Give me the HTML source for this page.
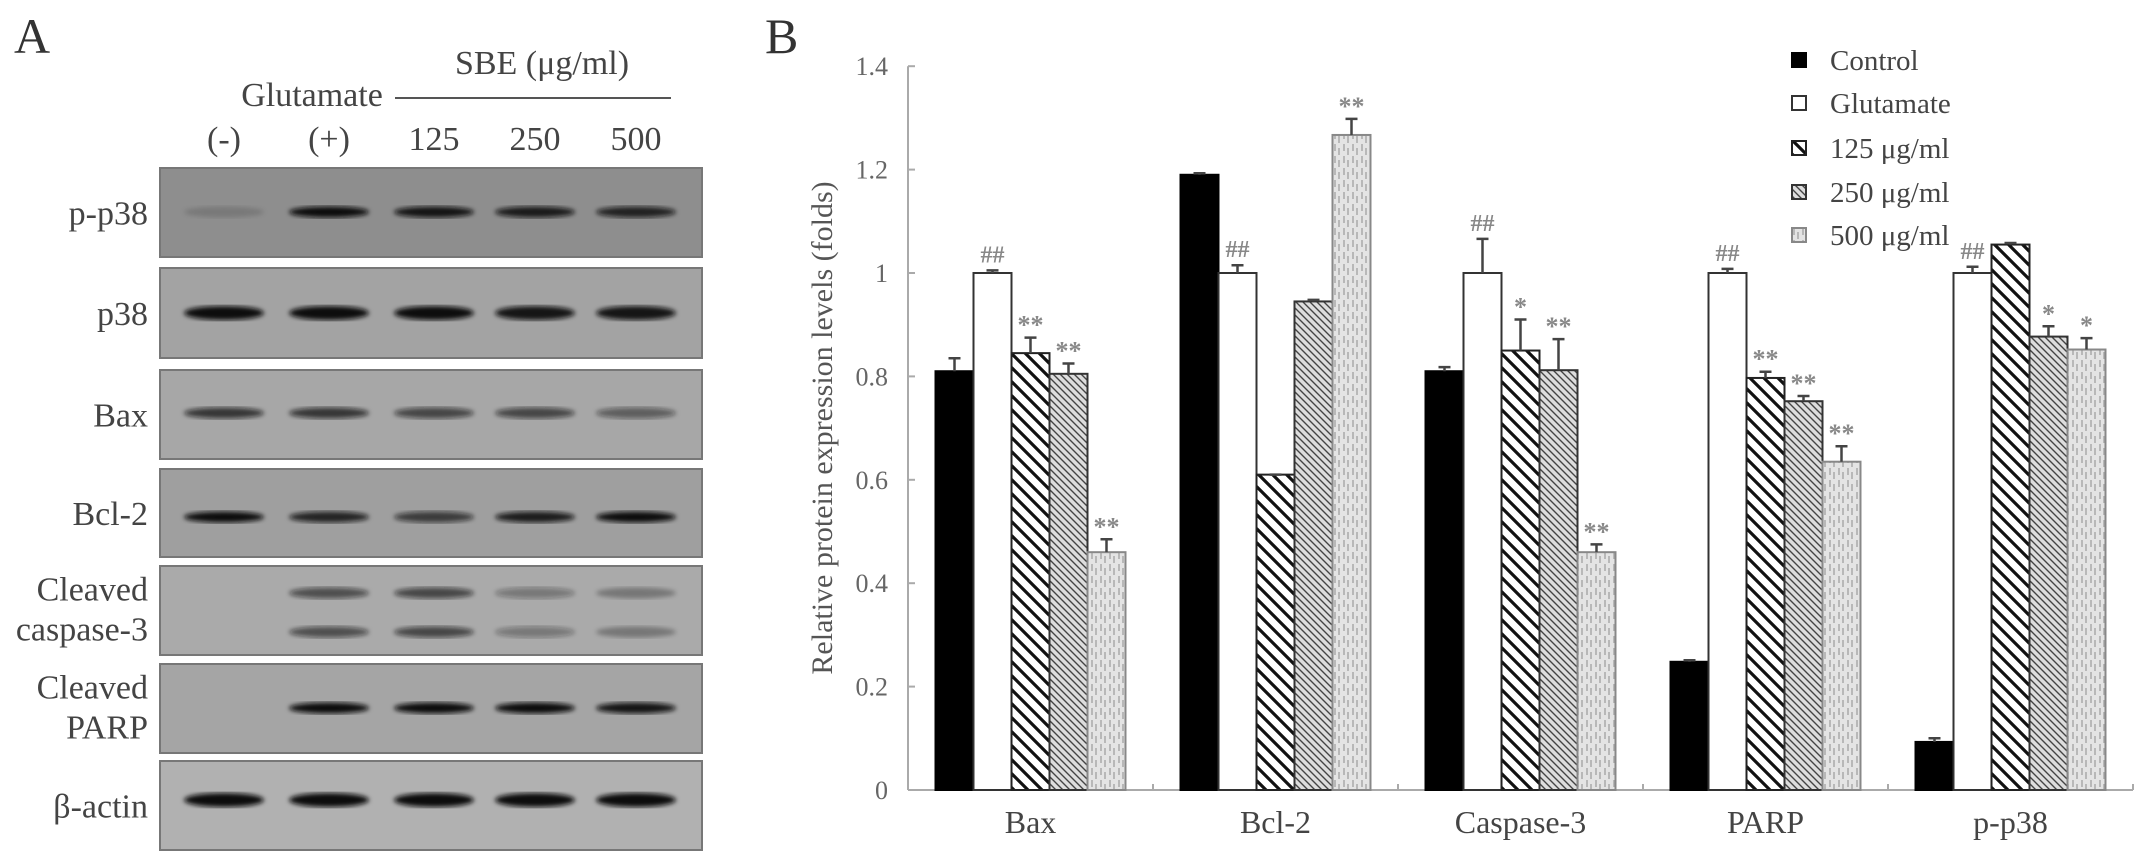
<!DOCTYPE html>
<html><head><meta charset="utf-8"><style>
html,body{margin:0;padding:0;background:#fff;}
svg{display:block;font-family:"Liberation Serif",serif;}
</style></head><body>
<svg id="fig" width="2150" height="864" viewBox="0 0 2150 864" xmlns="http://www.w3.org/2000/svg">
<defs>
<pattern id="p125" patternUnits="userSpaceOnUse" width="14" height="14">
<rect width="14" height="14" fill="#fff"/>
<path d="M-2,-2 L16,16 M-2,12 L2,16 M12,-2 L16,2" stroke="#111" stroke-width="3.2"/>
</pattern>
<pattern id="p250" patternUnits="userSpaceOnUse" width="7" height="7">
<rect width="7" height="7" fill="#ddd"/>
<path d="M-1,-1 L8,8 M-1,6 L1,8 M6,-1 L8,1" stroke="#444" stroke-width="1.4"/>
</pattern>
<pattern id="p500" patternUnits="userSpaceOnUse" width="9" height="12">
<rect width="9" height="12" fill="#e4e4e4"/>
<path d="M3,0 L3,7 M7,4 L7,11" stroke="#aaa" stroke-width="1.5"/>
</pattern>
<filter id="blur"><feGaussianBlur stdDeviation="2.4"/></filter>
</defs>

<!-- Panel A -->
<text x="14" y="53" font-size="50" fill="#333">A</text>
<text x="542" y="74" font-size="34" fill="#444" text-anchor="middle">SBE (μg/ml)</text>
<line x1="395" y1="98" x2="671" y2="98" stroke="#555" stroke-width="2"/>
<text x="312" y="106" font-size="34" fill="#444" text-anchor="middle">Glutamate</text>
<g id="lanes" font-size="34" fill="#444" text-anchor="middle"></g>
<g id="blots"></g>

<!-- Panel B -->
<text x="765" y="53" font-size="50" fill="#333">B</text>
<text transform="translate(832,428) rotate(-90)" font-size="30" fill="#555" text-anchor="middle">Relative protein expression levels (folds)</text>
<g id="chart"></g>
<g id="legend"></g>
</svg>
<script>
// ---- chart data ----
const categories = ["Bax", "Bcl-2", "Caspase-3", "PARP", "p-p38"];
const seriesNames = ["Control", "Glutamate", "125 μg/ml", "250 μg/ml", "500 μg/ml"];
const controlVals = [0.81, 1.19, 0.81, 0.248, 0.093];
const glutamateVals = [1.0, 1.0, 1.0, 1.0, 1.0];
const sbe125Vals = [0.845, 0.61, 0.85, 0.797, 1.055];
const sbe250Vals = [0.805, 0.945, 0.812, 0.752, 0.877];
const sbe500Vals = [0.46, 1.267, 0.46, 0.635, 0.852];
const controlErr = [0.025, 0.003, 0.008, 0.003, 0.007];
const glutamateErr = [0.005, 0.015, 0.066, 0.008, 0.012];
const sbe125Err = [0.03, 0.0, 0.06, 0.012, 0.003];
const sbe250Err = [0.02, 0.003, 0.06, 0.01, 0.02];
const sbe500Err = [0.025, 0.031, 0.015, 0.03, 0.022];
const controlMarks = ["", "", "", "", ""];
const glutamateMarks = ["##", "##", "##", "##", "##"];
const sbe125Marks = ["**", "", "*", "**", ""];
const sbe250Marks = ["**", "", "**", "**", "*"];
const sbe500Marks = ["**", "**", "**", "**", "*"];
const yTicks = [0, 0.2, 0.4, 0.6, 0.8, 1, 1.2, 1.4];
const yTickLabels = ["0", "0.2", "0.4", "0.6", "0.8", "1", "1.2", "1.4"];

const NS = "http://www.w3.org/2000/svg";
function mk(tag, attrs, parent){const e=document.createElementNS(NS,tag);for(const k in attrs)e.setAttribute(k,attrs[k]);parent.appendChild(e);return e;}

const X0=908, CAT_W=245, Y0=790, UNIT=517;
const BAR_W=38, BAR_OFF=(CAT_W-5*BAR_W)/2;
function yScale(v){return Y0 - v*UNIT;}
function xBand(ci){return X0 + ci*CAT_W;}
function xBar(ci,si){return xBand(ci)+BAR_OFF+si*BAR_W;}

const chart=document.getElementById('chart');
const values=[controlVals,glutamateVals,sbe125Vals,sbe250Vals,sbe500Vals];
const errs=[controlErr,glutamateErr,sbe125Err,sbe250Err,sbe500Err];
const marks=[controlMarks,glutamateMarks,sbe125Marks,sbe250Marks,sbe500Marks];
const fills=["#000","#fff","url(#p125)","url(#p250)","url(#p500)"];
const strokes=["#000","#333","#222","#333","#888"];

const yAxis=mk('line',{x1:X0,y1:yScale(1.4),x2:X0,y2:Y0,stroke:'#aaa','stroke-width':2},chart);


yTicks.forEach((t,i)=>{
  const tk=mk('line',{x1:X0,y1:yScale(t),x2:X0+7,y2:yScale(t),stroke:'#aaa','stroke-width':2},chart);
  
  
  const tl=mk('text',{x:X0-20,y:yScale(t)+9,'font-size':26,fill:'#666','text-anchor':'end'},chart);
  tl.textContent=yTickLabels[i];
  
  
});
const xAxis=mk('line',{x1:X0,y1:Y0,x2:xBand(categories.length),y2:Y0,stroke:'#aaa','stroke-width':2},chart);


for(let c=1;c<=categories.length;c++){
  const tk=mk('line',{x1:xBand(c),y1:Y0,x2:xBand(c),y2:Y0-6,stroke:'#aaa','stroke-width':2},chart);
  
  
}
categories.forEach((c,ci)=>{
  const t=mk('text',{x:xBand(ci)+CAT_W/2,y:833,'font-size':32,fill:'#444','text-anchor':'middle'},chart);
  t.textContent=c;
  
  
});
categories.forEach((c,ci)=>{
  values.forEach((vals,si)=>{
    const v=vals[ci], e=errs[si][ci];
    const x=xBar(ci,si), top=yScale(v);
    const r=mk('rect',{x:x,y:top,width:BAR_W,height:Y0-top,fill:fills[si],stroke:strokes[si],'stroke-width':2},chart);
    
    
    const cx=x+BAR_W/2, et=yScale(v+e);
    const el=mk('path',{d:`M${cx},${top} L${cx},${et} M${cx-6},${et} L${cx+6},${et}`,stroke:'#444','stroke-width':2.5,fill:'none'},chart);
    
    
    const m=marks[si][ci];
    if(m){
      const isHash=m[0]==='#';
      const mt=mk('text',{x:cx,y:et-(isHash?8:4),'font-size':isHash?24:26,fill:'#888','text-anchor':'middle','font-weight':'bold'},chart);
      mt.textContent=m;
      
      
    }
  });
});
const legend=document.getElementById('legend');
const legendY=[60,103,148,192,235];
seriesNames.forEach((n,si)=>{
  const sq=mk('rect',{x:1792,y:legendY[si]-7,width:14,height:14,fill:fills[si],stroke:strokes[si],'stroke-width':2},legend);
  
  
  const t=mk('text',{x:1830,y:legendY[si]+10,'font-size':29,fill:'#444'},legend);
  t.textContent=n;
  
  
});

// ---- blots ----
const laneNames=["(-)","(+)","125","250","500"];
const laneX=[224,329,434,535,636];
const lanes=document.getElementById('lanes');
laneNames.forEach((n,i)=>{
  const t=mk('text',{x:laneX[i],y:150},lanes);
  t.textContent=n;
  
  
});
const blotNames=[["p-p38"],["p38"],["Bax"],["Bcl-2"],["Cleaved","caspase-3"],["Cleaved","PARP"],["β-actin"]];
const blotTop=[168,268,370,469,566,664,761];
const blotBot=[257,358,459,557,655,753,850];
const blotBg=["#8e8e8e","#a3a3a3","#a7a7a7","#9f9f9f","#aaaaaa","#a5a5a5","#b1b1b1"];
const bandRows=[[212],[313],[413],[517],[593,632],[708],[800]];
const bandInt=[[0.15,1,0.95,0.9,0.85],[1,1,1,0.95,0.95],[0.75,0.75,0.65,0.65,0.5],[1,0.85,0.7,0.9,1],[0,0.6,0.65,0.35,0.3],[0,1,1,1,0.95],[1,1,1,1,1]];
const blots=document.getElementById('blots');
blotNames.forEach((lab,bi)=>{
  const g=mk('g',{},blots);
  
  
  mk('rect',{x:160,y:blotTop[bi],width:542,height:blotBot[bi]-blotTop[bi],fill:blotBg[bi],stroke:'#777','stroke-width':2},g);
  bandRows[bi].forEach(by=>{
    laneX.forEach((lx,li)=>{
      const a=bandInt[bi][li];
      if(a<=0) return;
      const b=mk('ellipse',{cx:lx,cy:by,rx:40,ry:bi===6||bi===1?7:5.5,fill:'#111','fill-opacity':a,filter:'url(#blur)'},g);
      
      
    });
  });
  const mid=(blotTop[bi]+blotBot[bi])/2;
  lab.forEach((line,li)=>{
    const yy=lab.length===1?mid+12:mid-10+li*40;
    const t=mk('text',{x:148,y:yy,'font-size':34,fill:'#444','text-anchor':'end'},g);
    t.textContent=line;
    
    
  });
});
</script>
</body></html>
